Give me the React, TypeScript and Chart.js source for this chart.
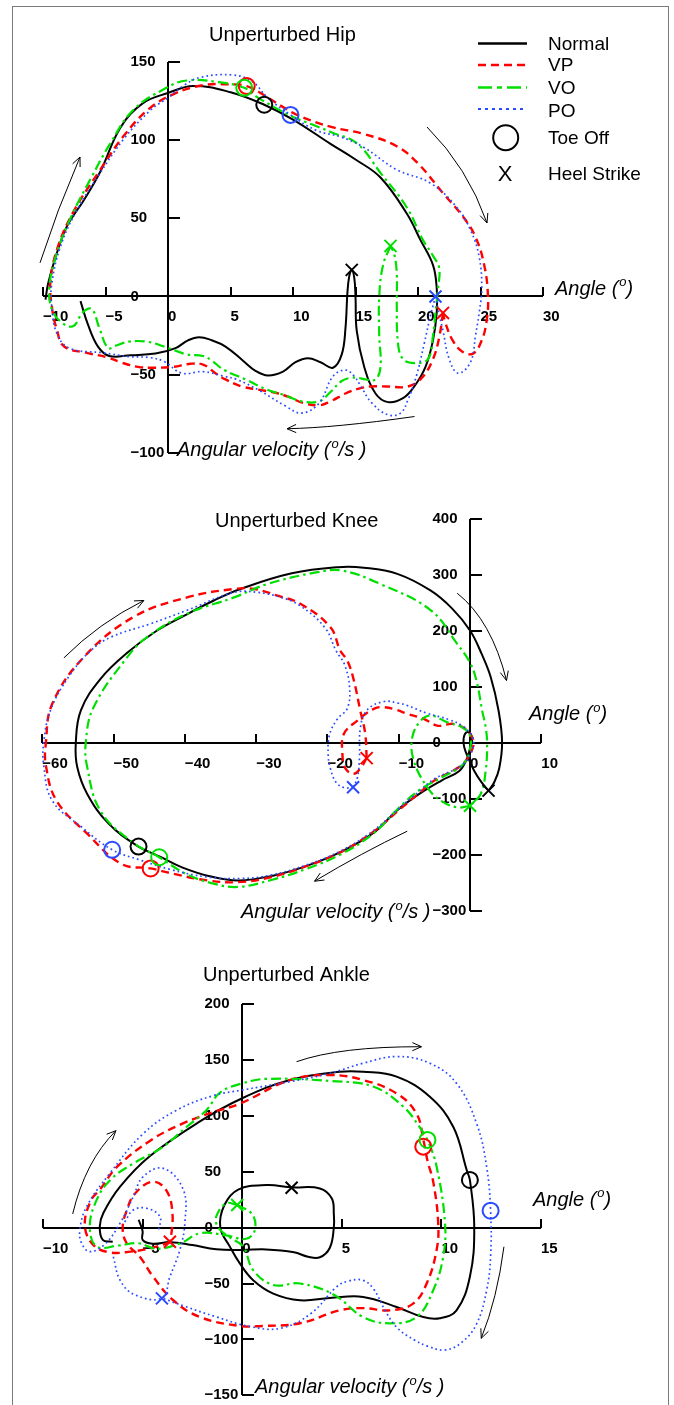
import React, { useEffect, useRef } from "react";
import { Chart, registerables } from "chart.js";

Chart.register(...registerables);

type Pt = [number, number];

// ---------------- shared ----------------
const seriesNames = ["Normal", "VP", "VO", "PO"];
const markerNames = ["Toe Off", "Heel Strike"];
const COLORS = ["#000000", "#ff0000", "#00e000", "#2a4bff"];
const WIDTHS = [2, 2.4, 2.2, 1.7];
const DASHES = [[], [8, 5], [10, 4, 2.5, 4], [1.7, 3]];
const FONT = '"Liberation Sans", Arial, Helvetica, sans-serif';

// ---------------- Hip ----------------
const hipXTicks = [-10, -5, 0, 5, 10, 15, 20, 25, 30];
const hipYTicks = [-100, -50, 0, 50, 100, 150];
const hipNormal: Pt[] = [
  [-7.0, -3], [-6.4, -18], [-5.6, -32], [-4.7, -38], [-3, -37.5], [-1, -36.5], [0.6, -33], [1.6, -28], [2.5, -26],
  [3.5, -28], [4.6, -32], [6, -41], [7, -47.5], [8, -50.5], [9.2, -48], [10.2, -42], [11.2, -39.5], [12.2, -42],
  [13.2, -45.5], [13.9, -37], [14.2, -20], [14.35, 2], [14.5, 13], [14.7, 17], [14.9, 12], [15.0, 0], [15.1, -22],
  [15.7, -45], [16.6, -62], [17.6, -67.5], [18.8, -65], [19.7, -57.5], [20.6, -45], [21.2, -28], [21.5, -10],
  [21.5, 5], [21.2, 20], [20.2, 36], [19.1, 53], [17, 76], [15, 87.5], [13, 97.5], [10, 113], [7.7, 122.5],
  [5, 130.5], [2, 134.5], [0, 130], [-2, 123.5], [-3.8, 108], [-5.4, 80], [-6.7, 62], [-8.1, 44.6], [-9.0, 25],
  [-9.6, 8], [-9.8, -2],
];
const hipVP: Pt[] = [
  [22.0, -10.5], [21.7, -26], [21.2, -40], [20.3, -52], [19.2, -57.5], [17.5, -57.5], [16.2, -57.5], [15.2, -59],
  [14.2, -62], [13, -67], [12.1, -69.5], [10.8, -68], [9.6, -64], [8.6, -61.5], [7.2, -59.5], [5.9, -57.5], [4.6, -53],
  [3.8, -49], [2.8, -43.5], [1.8, -43], [0.4, -45], [-1.2, -45.5], [-2.4, -45], [-3.8, -42], [-4.8, -39], [-6.5, -36],
  [-8.3, -32], [-8.9, -21], [-9.3, -6], [-9.4, 10], [-8.8, 32], [-7.5, 55], [-5.5, 80], [-3.5, 103], [-1.5, 120],
  [0.5, 129.5], [2.8, 135], [4.8, 135.5], [6.3, 134.4], [7.9, 127.5], [9.2, 121], [10.6, 115], [13.2, 108], [15.6, 104],
  [18.3, 96], [20, 85], [22, 66], [23.6, 51], [24.6, 38], [25.3, 20], [25.6, 0], [25.5, -15], [25.1, -28], [24.4, -36.5],
  [23.5, -35], [22.7, -27], [22.2, -17], [22.0, -11],
];
const hipVO: Pt[] = [
  [17.8, 32.3], [17.2, 20], [16.9, 0], [16.9, -25], [17.0, -45], [16.6, -53], [15.8, -53], [15.2, -52], [14.6, -52],
  [13.9, -54], [13.0, -61], [12.1, -67], [10.7, -67], [9.3, -63], [8, -59.8], [6.2, -53], [4.5, -47], [3.5, -41],
  [2.8, -38], [1.5, -37], [-0.3, -32], [-1.6, -29], [-3.1, -28.8], [-4.2, -31.5], [-4.8, -33], [-5.5, -20], [-6.1, -8],
  [-6.8, -10], [-7.6, -19], [-8.6, -16], [-9.3, -8], [-9.5, 5], [-9.0, 25], [-7.8, 50], [-6.2, 75], [-4.6, 98],
  [-2.8, 119], [-0.2, 133], [1.5, 138], [4, 137], [6.1, 133.3], [7.1, 127.5], [8.5, 121], [10, 114.7], [11.5, 110],
  [13.2, 104.5], [15.1, 98], [17, 79], [19.1, 57], [20.4, 36], [21.2, 26], [21.7, 18], [21.6, 5], [21.4, -10],
  [21.2, -25], [20.8, -40], [19.7, -42.6], [18.8, -40], [18.4, -30], [18.3, -5], [18.3, 15], [18.1, 27], [17.8, 32.3],
];
const hipPO: Pt[] = [
  [21.4, 0], [21.0, -12], [20.5, -30], [19.9, -50], [19.2, -66], [18.6, -74.5], [17.6, -75.6], [16.3, -68], [15.4, -57],
  [14.9, -51], [14.2, -47], [13.2, -51], [12.1, -68], [10.7, -74.5], [9.4, -70], [7.3, -60], [5.5, -53], [4.5, -51],
  [2.8, -48], [1.1, -49], [-0.3, -41.6], [-1.5, -39], [-3.1, -38.4], [-5.2, -36], [-7.9, -33], [-8.9, -23.4],
  [-9.3, -6.4], [-9.3, 8], [-8.6, 32], [-7.3, 55], [-5.5, 78], [-3.5, 101], [-1.4, 119], [0, 127], [1.3, 135],
  [2.6, 140], [5.2, 141.5], [6.8, 137], [7.9, 127.5], [9.8, 116], [11.9, 106], [13.8, 102], [15.6, 95.6], [18.3, 81],
  [21, 72.4], [23.1, 57], [24.2, 42.5], [24.9, 25], [25.1, 5], [24.9, -10], [24.6, -25], [24.2, -42], [23.2, -49],
  [22.5, -40], [22.0, -22], [21.6, -8], [21.4, 0],
];
const hipToeOff: Pt[] = [[7.7, 122.5], [6.3, 134.4], [6.1, 133.3], [9.8, 116]];
const hipHeelStrike: Pt[] = [[14.7, 17], [22.0, -10.5], [17.8, 32.3], [21.4, 0]];
const hipArrows: number[][] = [
  [-10.24, 21.5, -8.88, 55.3, -7.04, 89.1],
  [20.72, 108.3, 23.97, 82.4, 25.52, 47],
  [19.72, -76.7, 13.34, -83.9, 9.52, -84.5],
];

// ---------------- Knee ----------------
const kneeXTicks = [-60, -50, -40, -30, -20, -10, 0, 10];
const kneeYTicks = [-300, -200, -100, 0, 100, 200, 300, 400];
const kneeNormal: Pt[] = [
  [2.6, -85], [1.6, -70], [0.6, -50], [-0.2, -28], [-0.8, -8], [-0.9, 8], [-0.5, 19], [0.1, 16], [0.3, 5], [0, -10],
  [-0.5, -30], [-1.5, -50], [-4, -67], [-7, -90], [-10.2, -120], [-13.5, -160], [-18.2, -195], [-22.8, -219],
  [-27.5, -236.5], [-32.5, -245.5], [-36.5, -238], [-40.4, -222], [-43.5, -203], [-46.5, -185], [-50.7, -144],
  [-53.7, -91], [-55.1, -43], [-55.3, 0], [-54.6, 58], [-51.8, 115], [-48, 162], [-44, 200], [-40, 228], [-36, 254],
  [-32.2, 275], [-25, 303], [-18.5, 314], [-14.9, 313], [-10.2, 302], [-5.5, 272], [-2.5, 240], [0, 201], [1.6, 160],
  [2.9, 118], [4, 58], [4.5, 1], [4.1, -45], [3.4, -70], [2.6, -85],
];
const kneeVP: Pt[] = [
  [-14.5, -27], [-15.2, -42], [-16.3, -55], [-17.5, -45], [-17.9, -19], [-17.7, 16], [-15.8, 40], [-13.5, 61],
  [-12.1, 64], [-10.3, 59], [-8.8, 52], [-6.5, 43], [-4.6, 31], [-3.3, 33], [-2.3, 34], [-0.9, 27], [0.1, 15],
  [0.5, -1.5], [0, -20], [-0.8, -35], [-2.3, -49], [-5, -67], [-7, -88], [-10, -120], [-13.5, -158], [-18, -194],
  [-23, -220], [-28, -240], [-32.5, -248.5], [-36.8, -245.5], [-41.6, -233.6], [-44.8, -224], [-48.9, -216],
  [-53.7, -162], [-58, -103], [-59.5, -40], [-59.5, 0], [-58.6, 70], [-54.2, 153], [-47.2, 225], [-39.7, 260],
  [-33.1, 275], [-30.3, 275], [-27, 263], [-23.8, 248.6], [-19.6, 207], [-18.2, 165], [-17.2, 147], [-16.3, 112],
  [-15.4, 58], [-14.7, 17], [-14.5, -27],
];
const kneeVO: Pt[] = [
  [0, -112], [-1.8, -115], [-4.1, -103], [-6, -79], [-7.9, -31], [-8.1, 10], [-6.9, 40], [-5.5, 49], [-3.2, 37],
  [-1.1, 28], [0, 13], [0, -10], [-0.9, -37], [-4, -62], [-7, -83], [-10, -116], [-13.5, -161], [-18, -198],
  [-23, -225], [-28, -245], [-32.5, -257], [-36, -251], [-39.8, -234], [-43.6, -204], [-47.7, -174], [-51.9, -120],
  [-53.7, -43], [-53.9, 1], [-52.8, 64], [-48.1, 153], [-45.3, 189], [-39.7, 231], [-33.1, 260], [-28.4, 284],
  [-21.4, 305], [-18, 308], [-12.6, 284], [-5.5, 237], [-1.8, 177], [0.1, 141], [1, 106], [1.7, 58], [2.2, 28],
  [2.4, -1.5], [2.2, -49], [1.5, -91], [0, -112],
];
const kneePO: Pt[] = [
  [-16.4, -79], [-15.8, -62], [-15.5, -25], [-15.4, 25], [-14.5, 58], [-12.1, 74], [-10, 71], [-8.8, 67], [-6, 53],
  [-3, 42], [-1, 30], [0.3, 12], [0.5, -3], [0, -22], [-0.8, -36], [-2.3, -48], [-5, -64], [-7, -85], [-10, -117],
  [-13.5, -156], [-18, -192], [-23, -218], [-28, -236], [-32.2, -242], [-37, -239], [-42, -226], [-46.5, -208],
  [-50.2, -190.7], [-54.5, -150], [-58.6, -103], [-59.8, -40], [-59.8, 1.4], [-58.8, 60], [-56.2, 120], [-53.2, 165],
  [-50.4, 189], [-44.8, 213], [-39.7, 237], [-33.1, 269], [-29.8, 269], [-26.5, 260], [-23.8, 245], [-20.3, 205],
  [-18.8, 165], [-17.6, 140], [-16.9, 100], [-17.2, 62], [-18.6, 43], [-19.7, 15], [-19.9, -20], [-19.6, -45],
  [-18.8, -70], [-17.6, -80], [-16.4, -79],
];
const kneeToeOff: Pt[] = [[-46.5, -185], [-44.8, -224], [-43.6, -204], [-50.2, -190.7]];
const kneeHeelStrike: Pt[] = [[2.6, -85], [-14.5, -27], [0, -112], [-16.4, -79]];
const kneeArrows: number[][] = [
  [-56.97, 152, -52.13, 213.9, -45.75, 254.5],
  [-1.8, 267.5, 3.02, 218.8, 5.12, 111.6],
  [-8.81, -157.5, -15.08, -195.5, -21.81, -246.8],
];

// ---------------- Ankle ----------------
const ankXTicks = [-10, -5, 0, 5, 10, 15];
const ankYTicks = [-150, -100, -50, 0, 50, 100, 150, 200];
const ankNormal: Pt[] = [
  [-6.5, -12.6], [-7.0, -11], [-7.15, 1], [-6.97, 13], [-6.13, 36.6], [-4.63, 64], [-2.12, 95], [0, 115.7], [2.4, 132],
  [4.9, 139.4], [6.07, 139.4], [7.75, 135], [9.42, 117], [10.6, 90], [11.27, 51.5], [11.43, 42.6], [11.65, 0],
  [11.43, -44], [10.76, -74], [9.92, -81], [9.09, -80], [7.75, -71], [6.07, -62], [4.4, -63], [2.9, -65], [1.56, -59],
  [0.55, -47], [-0.12, -32], [-0.62, -17], [-1.1, 0], [-0.9, 20], [-0.2, 34], [1.22, 38], [2.5, 36], [3.9, 35],
  [4.5, 26], [4.6, 12], [4.6, 0], [4.4, -18], [3.9, -26.5], [3.3, -26], [2.6, -22], [1.2, -19.5], [0, -20],
  [-1.3, -19.4], [-2.5, -15.6], [-3.6, -13], [-4.5, -14.5], [-5.0, -11], [-5.0, -3], [-5.2, 7],
];
const ankVP: Pt[] = [
  [-3.6, -13], [-4.5, -18], [-5.6, -21.5], [-6.7, -22], [-7.5, -15], [-7.9, 2], [-7.6, 24], [-7.1, 35], [-6.3, 54],
  [-4.6, 78], [-3, 93], [-1.5, 103], [-0.1, 111], [2.4, 132], [4.4, 136.5], [6.07, 132], [7.75, 120], [8.75, 102],
  [9.1, 78], [9.3, 60], [9.6, 40], [9.84, 4], [9.76, -20], [9.26, -50], [8.58, -68], [7.41, -74], [6.07, -72],
  [4.9, -74], [2.9, -85.6], [1, -88], [-0.12, -88], [-2.12, -80], [-3.46, -65], [-4.47, -44], [-5.14, -26],
  [-5.8, -14], [-6.0, 0], [-5.8, 15], [-5.4, 30], [-4.5, 41], [-3.8, 33], [-3.5, 12], [-3.6, -13],
];
const ankVO: Pt[] = [
  [-0.25, 20.2], [0.5, 12], [0.64, -2], [0.2, -10], [-0.8, -7], [-2.1, -5], [-3.1, -14], [-4.3, -19], [-5.2, -14],
  [-6.2, -16], [-7.3, -17], [-7.65, 1], [-7.3, 25], [-6.6, 43], [-5.5, 57], [-4.0, 72], [-2.8, 90], [-1.8, 105],
  [-1.1, 121], [0, 129], [1.2, 133], [4.5, 131], [6.6, 126], [8.1, 108], [8.9, 90], [9.3, 78.4], [9.76, 54.5],
  [10.18, 4], [10.09, -26], [9.59, -56], [8.75, -80], [7.41, -85.6], [6.07, -80], [4.6, -60], [2.9, -50],
  [1.56, -51.3], [0.55, -38], [0.05, -17], [-0.6, -9], [-1.2, 0], [-1.3, 10], [-0.8, 21.7], [-0.25, 20.2],
];
const ankPO: Pt[] = [
  [-6.47, -26], [-6.13, -47], [-5.4, -60], [-4.03, -63], [-3.63, -44], [-3.13, -20], [-2.88, 4], [-2.96, 34],
  [-3.96, 53], [-4.97, 45.5], [-5.47, 27.6], [-6.13, 4], [-6.9, -15], [-7.65, -21.5], [-8.06, -14], [-8.15, -2],
  [-7.81, 18.7], [-6.64, 48.6], [-4.97, 84], [-3.29, 105], [-1.46, 118], [0, 123], [2.4, 130.5], [4.4, 138],
  [6.07, 147], [7.75, 153], [9.42, 147], [10.76, 129], [11.77, 93], [12.27, 54.5], [12.47, 15], [12.47, -26],
  [12.27, -56], [11.77, -86], [11, -103], [10.16, -109.5], [9.3, -106], [8.64, -100.5], [7.8, -90], [7.2, -75],
  [6.6, -55], [6.04, -47], [5.3, -48], [4.74, -53], [3.44, -77], [1.93, -90], [0.41, -88.6], [-1.33, -79.7],
  [-2.84, -70.7], [-4.03, -63],
];
const ankPOLoop: Pt[] = [[-5.9, 5], [-5.47, 15.7], [-4.8, 17.3], [-4.13, 9.8], [-4.2, -3]];
const ankToeOff: Pt[] = [[11.43, 42.6], [9.09, 72.4], [9.3, 78.4], [12.47, 15.1]];
const ankHeelStrike: Pt[] = [[2.48, 35.7], [-3.63, -12.6], [-0.25, 20.2], [-4.03, -63.3]];
const ankArrows: number[][] = [
  [-8.51, 12.2, -7.88, 59.2, -6.34, 86.7],
  [2.73, 148.4, 4.9, 162, 9.0, 161.8],
  [13.14, -17.1, 12.8, -63.6, 12.0, -99],
];

// ---------------- panel configs ----------------
interface PanelCfg {
  key: string;
  top: number;
  height: number;
  pad: { left: number; right: number; top: number; bottom: number };
  xTicks: number[];
  yTicks: number[];
  series: Pt[][];
  extra?: Pt[];
  toeOff: Pt[];
  heel: Pt[];
  arrows: number[][];
  title: string;
  titlePos: [number, number];
  anglePos: [number, number];
  velPos: [number, number];
  legend: boolean;
}

const panels: PanelCfg[] = [
  {
    key: "hip", top: 0, height: 465,
    pad: { left: 43, right: 131, top: 61.7, bottom: 12 },
    xTicks: hipXTicks, yTicks: hipYTicks,
    series: [hipNormal, hipVP, hipVO, hipPO],
    toeOff: hipToeOff, heel: hipHeelStrike, arrows: hipArrows,
    title: "Unperturbed Hip", titlePos: [209, 40.7],
    anglePos: [555, 294.5], velPos: [177, 456], legend: true,
  },
  {
    key: "knee", top: 465, height: 470,
    pad: { left: 42.3, right: 132.7, top: 54, bottom: 24 },
    xTicks: kneeXTicks, yTicks: kneeYTicks,
    series: [kneeNormal, kneeVP, kneeVO, kneePO],
    toeOff: kneeToeOff, heel: kneeHeelStrike, arrows: kneeArrows,
    title: "Unperturbed Knee", titlePos: [215, 62.3],
    anglePos: [529, 255], velPos: [241, 453], legend: false,
  },
  {
    key: "ankle", top: 935, height: 470,
    pad: { left: 43, right: 133, top: 69, bottom: 9.7 },
    xTicks: ankXTicks, yTicks: ankYTicks,
    series: [ankNormal, ankVP, ankVO, ankPO],
    extra: ankPOLoop,
    toeOff: ankToeOff, heel: ankHeelStrike, arrows: ankArrows,
    title: "Unperturbed Ankle", titlePos: [203, 45.7],
    anglePos: [533, 270.5], velPos: [255, 458], legend: false,
  },
];

const fmt = (t: number) => (t < 0 ? "\u2212" + Math.abs(t) : String(t));

function drawSup(ctx: any, x: number, y: number, pre: string, sup: string, post: string, size: number) {
  ctx.textAlign = "left";
  ctx.textBaseline = "alphabetic";
  ctx.font = `italic ${size}px ${FONT}`;
  ctx.fillText(pre, x, y);
  let w = ctx.measureText(pre).width + 1;
  ctx.font = `italic ${Math.round(size * 0.65)}px ${FONT}`;
  ctx.fillText(sup, x + w, y - size * 0.42);
  w += ctx.measureText(sup).width;
  ctx.font = `italic ${size}px ${FONT}`;
  ctx.fillText(post, x + w, y);
}

function drawArrow(ctx: any, xs: any, ys: any, a: number[]) {
  const sx = xs.getPixelForValue(a[0]), sy = ys.getPixelForValue(a[1]);
  const cx = xs.getPixelForValue(a[2]), cy = ys.getPixelForValue(a[3]);
  const ex = xs.getPixelForValue(a[4]), ey = ys.getPixelForValue(a[5]);
  ctx.beginPath();
  ctx.moveTo(sx, sy);
  ctx.quadraticCurveTo(cx, cy, ex, ey);
  ctx.stroke();
  const ang = Math.atan2(ey - cy, ex - cx);
  const L = 10, s = 0.42;
  ctx.beginPath();
  ctx.moveTo(ex - L * Math.cos(ang - s), ey - L * Math.sin(ang - s));
  ctx.lineTo(ex, ey);
  ctx.lineTo(ex - L * Math.cos(ang + s), ey - L * Math.sin(ang + s));
  ctx.stroke();
}

function makeOverlay(p: PanelCfg) {
  return {
    id: "overlay_" + p.key,
    beforeDatasetsDraw(chart: any) {
      const ctx = chart.ctx, xs = chart.scales.x, ys = chart.scales.y;
      const x0 = Math.round(xs.getPixelForValue(0));
      const y0 = Math.round(ys.getPixelForValue(0));
      const xa = Math.round(xs.getPixelForValue(p.xTicks[0]));
      const xb = Math.round(xs.getPixelForValue(p.xTicks[p.xTicks.length - 1]));
      const ya = Math.round(ys.getPixelForValue(p.yTicks[0]));
      const yb = Math.round(ys.getPixelForValue(p.yTicks[p.yTicks.length - 1]));
      ctx.save();
      ctx.strokeStyle = "#000";
      ctx.lineWidth = 2;
      ctx.setLineDash([]);
      ctx.beginPath();
      ctx.moveTo(xa, y0); ctx.lineTo(xb, y0);
      ctx.moveTo(x0, ya); ctx.lineTo(x0, yb);
      for (const t of p.xTicks) {
        const px = Math.round(xs.getPixelForValue(t));
        ctx.moveTo(px, y0); ctx.lineTo(px, y0 - 9);
      }
      for (const t of p.yTicks) {
        const py = Math.round(ys.getPixelForValue(t));
        ctx.moveTo(x0, py); ctx.lineTo(x0 + 12, py);
      }
      ctx.stroke();
      ctx.fillStyle = "#000";
      ctx.font = `bold 15px ${FONT}`;
      ctx.textAlign = "left";
      ctx.textBaseline = "middle";
      for (const t of p.xTicks) ctx.fillText(fmt(t), xs.getPixelForValue(t), y0 + 21);
      for (const t of p.yTicks) ctx.fillText(fmt(t), x0 - 37.5, ys.getPixelForValue(t));
      ctx.restore();
    },
    afterDatasetsDraw(chart: any) {
      const ctx = chart.ctx, xs = chart.scales.x, ys = chart.scales.y;
      ctx.save();
      ctx.fillStyle = "#000";
      ctx.strokeStyle = "#000";
      ctx.lineWidth = 1;
      ctx.setLineDash([]);
      for (const a of p.arrows) drawArrow(ctx, xs, ys, a);
      ctx.font = `20px ${FONT}`;
      ctx.textAlign = "left";
      ctx.textBaseline = "alphabetic";
      ctx.fillText(p.title, p.titlePos[0], p.titlePos[1]);
      drawSup(ctx, p.anglePos[0], p.anglePos[1], "Angle (", "o", ")", 20);
      drawSup(ctx, p.velPos[0], p.velPos[1], "Angular velocity (", "o", "/s )", 20);
      if (p.legend) {
        const lineY = [43.5, 65, 87.5, 109];
        const textY = [44.5, 65.5, 88.3, 111.5];
        for (let i = 0; i < 4; i++) {
          ctx.save();
          ctx.strokeStyle = COLORS[i];
          ctx.lineWidth = i === 3 ? 2.2 : 2.6;
          ctx.setLineDash(i === 3 ? [3, 4] : i === 2 ? [14, 5, 5, 5] : DASHES[i]);
          ctx.beginPath();
          ctx.moveTo(478, lineY[i]);
          ctx.lineTo(527, lineY[i]);
          ctx.stroke();
          ctx.restore();
          ctx.font = `19px ${FONT}`;
          ctx.textBaseline = "middle";
          ctx.fillText(seriesNames[i], 548, textY[i]);
        }
        ctx.lineWidth = 2;
        ctx.beginPath();
        ctx.arc(505.7, 137.7, 12.5, 0, Math.PI * 2);
        ctx.stroke();
        ctx.font = `19px ${FONT}`;
        ctx.textBaseline = "middle";
        ctx.fillText(markerNames[0], 548, 138.3);
        ctx.fillText(markerNames[1], 548, 174.5);
        ctx.font = `22px ${FONT}`;
        ctx.textAlign = "center";
        ctx.fillText("X", 505, 175);
      }
      ctx.restore();
    },
  };
}

function lineDs(data: Pt[], i: number) {
  return {
    data: data.map(([x, y]) => ({ x, y })),
    showLine: true,
    borderColor: COLORS[i],
    backgroundColor: COLORS[i],
    borderWidth: WIDTHS[i],
    borderDash: DASHES[i],
    borderCapStyle: "butt",
    borderJoinStyle: "round",
    pointRadius: 0,
    pointHoverRadius: 0,
    tension: 0.4,
    fill: false,
    clip: false,
  };
}

function markerDs(pts: Pt[], style: string) {
  return {
    data: pts.map(([x, y]) => ({ x, y })),
    showLine: false,
    pointStyle: style,
    pointRadius: style === "circle" ? 8 : 8.5,
    pointHoverRadius: style === "circle" ? 8 : 8.5,
    pointBorderWidth: 2,
    pointBorderColor: COLORS,
    pointBackgroundColor: "rgba(0,0,0,0)",
    clip: false,
  };
}

function buildConfig(p: PanelCfg): any {
  const ds: any[] = [markerDs(p.toeOff, "circle"), markerDs(p.heel, "crossRot")];
  for (let i = 3; i >= 0; i--) ds.push(lineDs(p.series[i], i));
  if (p.extra) ds.push(lineDs(p.extra, 3));
  return {
    type: "scatter",
    data: { datasets: ds },
    options: {
      animation: false,
      responsive: false,
      devicePixelRatio: 1,
      events: [],
      layout: { padding: p.pad, autoPadding: false },
      elements: { line: { capBezierPoints: false } },
      plugins: { legend: { display: false }, tooltip: { enabled: false }, title: { display: false } },
      scales: {
        x: { type: "linear", min: p.xTicks[0], max: p.xTicks[p.xTicks.length - 1], display: false },
        y: { type: "linear", min: p.yTicks[0], max: p.yTicks[p.yTicks.length - 1], display: false },
      },
    },
    plugins: [makeOverlay(p)],
  };
}

function Panel({ p }: { p: PanelCfg }) {
  const ref = useRef<HTMLCanvasElement>(null);
  useEffect(() => {
    if (!ref.current) return;
    const chart = new Chart(ref.current, buildConfig(p));
    return () => chart.destroy();
  }, [p]);
  return (
    <canvas
      ref={ref}
      width={674}
      height={p.height}
      style={{ position: "absolute", left: 0, top: p.top, width: 674, height: p.height }}
    />
  );
}

export default function App() {
  return (
    <div
      style={{
        position: "absolute", left: 0, top: 0, width: 674, height: 1405,
        overflow: "hidden", background: "#fff",
      }}
    >
      <div
        style={{
          position: "absolute", left: 12, top: 6, width: 655, height: 1430,
          border: "1px solid #7a7a7a",
        }}
      />
      {panels.map((p) => (
        <Panel key={p.key} p={p} />
      ))}
    </div>
  );
}
